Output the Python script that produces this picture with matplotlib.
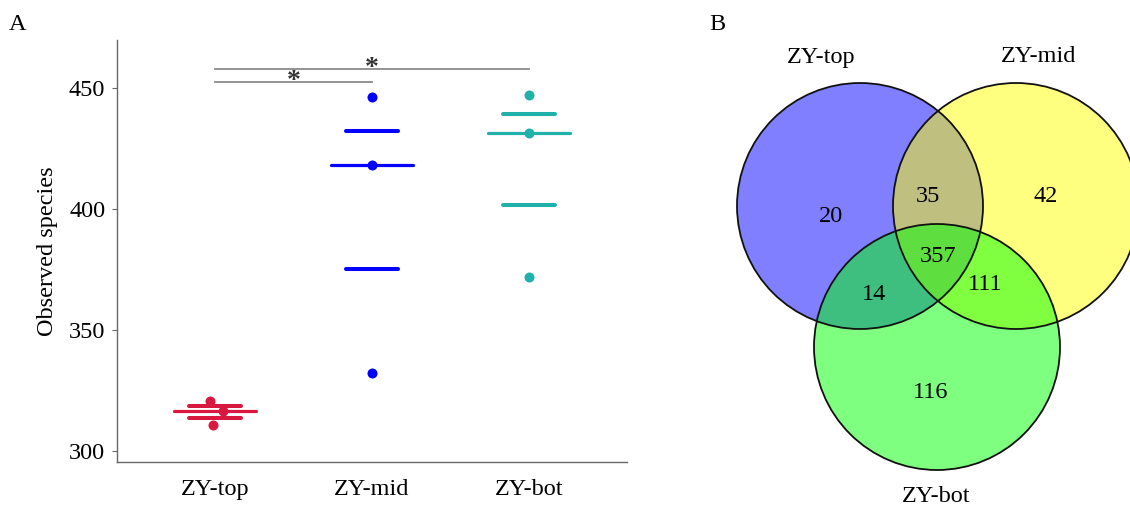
import matplotlib
matplotlib.use('Agg')
import matplotlib.pyplot as plt
from matplotlib.patches import Circle
import numpy as np

plt.rcParams['font.family'] = ['Liberation Serif', 'DejaVu Serif']
plt.rcParams['font.size'] = 17.5

# panel A data
groups = ['ZY-top', 'ZY-mid', 'ZY-bot']
top_vals = [320.8, 316.6, 310.6]
mid_vals = [446.3, 418.2, 332.2]
bot_vals = [447.2, 431.4, 372.0]
jitter = [[-0.03, 0.05, -0.01], [0, 0, 0], [0, 0, 0]]
colors = ['#D8183E', '#0000FF', '#20B2AA']
yticks = [300, 350, 400, 450]
# significance: (group a, group b, bar height)
sig_pairs = [(0, 1, 452.5), (0, 2, 458.0)]

# panel B data
venn_sets = ['ZY-top', 'ZY-mid', 'ZY-bot']
venn_counts = {'100': 20, '010': 42, '001': 116, '110': 35,
               '101': 14, '011': 111, '111': 357}

fig = plt.figure(figsize=(11.3, 5.05), dpi=100)

# ---------- panel A ----------
ax = fig.add_axes([117/1130, 1 - 462/505, 510/1130, 422/505])
all_vals = [top_vals, mid_vals, bot_vals]
for i, vals in enumerate(all_vals):
    x = i + 1
    q1, med, q3 = np.percentile(vals, [25, 50, 75])
    ax.hlines(med, x - 0.26, x + 0.26, color=colors[i], lw=2.3, capstyle='round')
    ax.hlines([q1, q3], x - 0.165, x + 0.165, color=colors[i], lw=2.9, capstyle='round')
    ax.plot(np.array(jitter[i]) + x, vals, 'o', color=colors[i], ms=7.2, mec='none')

for a, b, h in sig_pairs:
    ax.plot([a + 1, b + 1], [h, h], color='#8a8a8a', lw=1.3)
    ax.text((a + b) / 2 + 1, h - 2.4, '*', ha='center', va='baseline',
            fontsize=20, fontweight='bold', color='#333333')

ax.set_xlim(0.376, 3.624)
ax.set_ylim(295.5, 470)
ax.set_xticks([1, 2, 3])
ax.set_xticklabels(groups)
ax.set_yticks(yticks)
ax.tick_params(axis='x', length=0, pad=12)
ax.tick_params(axis='y', length=3.5, pad=5, color='#666666')
for s in ['top', 'right']:
    ax.spines[s].set_visible(False)
for s in ['left', 'bottom']:
    ax.spines[s].set_color('#666666')
    ax.spines[s].set_linewidth(1.0)
ax.set_ylabel('Observed species', labelpad=8)
fig.text(18/1130, 1 - 25/505, 'A', ha='center', va='center')

# ---------- panel B ----------
bx = fig.add_axes([690/1130, 0, 440/1130, 1])
bx.set_xlim(690, 1130)
bx.set_ylim(505, 0)
bx.axis('off')
r = 123
centers = [(860, 206), (1016, 206), (937, 347)]
fills = [(0, 0, 1, 0.5), (1, 1, 0, 0.5), (0, 1, 0, 0.5)]
for c, f in zip(centers, fills):
    bx.add_patch(Circle(c, r, facecolor=f, edgecolor='none'))
for c in centers:
    bx.add_patch(Circle(c, r, facecolor='none', edgecolor='#111111', lw=1.3))

set_label_pos = [(821, 57), (1039, 57), (936, 496)]
for name, (lx, ly) in zip(venn_sets, set_label_pos):
    bx.text(lx, ly, name, ha='center', va='center')

count_pos = {'100': (831, 217), '010': (1046, 197), '001': (931, 392),
             '110': (928, 197), '101': (874, 295), '011': (985, 285),
             '111': (938, 256)}
for key, n in venn_counts.items():
    px, py = count_pos[key]
    bx.text(px, py, str(n), ha='center', va='center')
fig.text(717/1130, 1 - 25/505, 'B', ha='center', va='center')

fig.savefig('out.png', dpi=100)
